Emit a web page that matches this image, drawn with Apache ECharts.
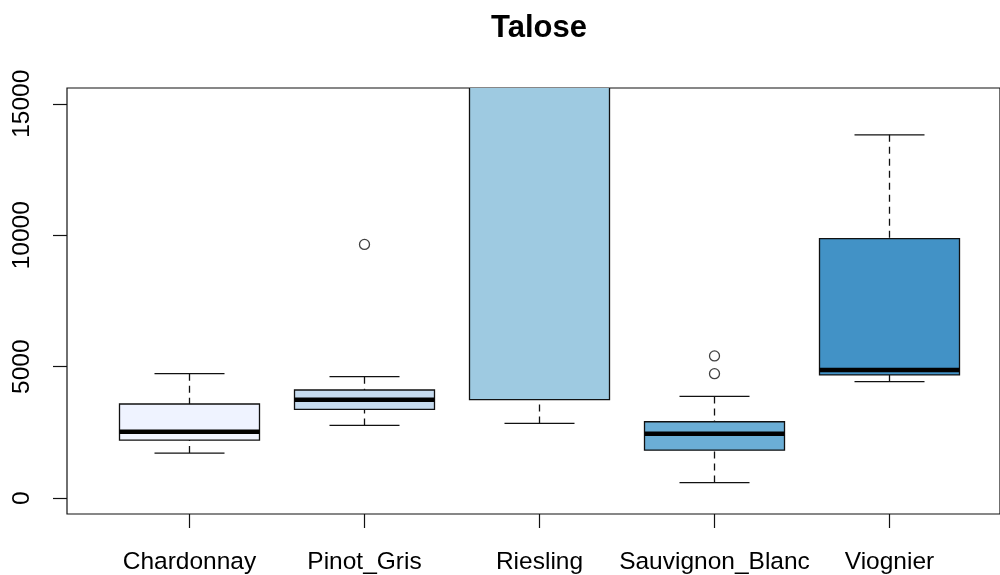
<!DOCTYPE html>
<html>
<head>
<meta charset="utf-8">
<title>Talose</title>
<script src="https://cdn.jsdelivr.net/npm/echarts@6/dist/echarts.min.js"></script>
<style>
  html, body { margin: 0; padding: 0; background: #fff; }
  #chart { width: 1000px; height: 575px; }
</style>
</head>
<body>
<div id="chart"></div>
<script>
// Varieties along the x axis
const categories = ['Chardonnay', 'Pinot_Gris', 'Riesling', 'Sauvignon_Blanc', 'Viognier'];

// Five-number summaries per variety
const lowWhisker  = [1715, 2767, 2843,  595,  4432];
const lowerQuart  = [2210, 3377, 3746, 1829,  4687];
const medians     = [2527, 3746, 17000, 2450, 4878];
const upperQuart  = [3584, 4116, 21000, 2908, 9870];
const highWhisker = [4737, 4623, 28000, 3872, 13819];

// Outlying observations: [variety position, value]
const outliers = [[2, 9653], [4, 5412], [4, 4737]];

// Axis ticks
const yTicks = [0, 5000, 10000, 15000];
const xTicks = [1, 2, 3, 4, 5];

const fills = ['#EFF3FF', '#C6DBEF', '#9ECAE1', '#6BAED6', '#4292C6'];
const FONT = '"Liberation Sans", Arial, sans-serif';

const boxData = categories.map((c, i) => [
  i + 1, lowWhisker[i], lowerQuart[i], medians[i], upperQuart[i], highWhisker[i]
]);

function renderBox(params, api) {
  const x = api.value(0);
  const lo = api.value(1), q1 = api.value(2), md = api.value(3), q3 = api.value(4), hi = api.value(5);
  const half = 0.4, staple = 0.2;
  const tl = api.coord([x - half, q3]);
  const br = api.coord([x + half, q1]);
  const seg = (a, b, style) => ({
    type: 'line',
    shape: { x1: a[0], y1: a[1], x2: b[0], y2: b[1] },
    style: Object.assign({ stroke: '#111', lineWidth: 1.3 }, style || {})
  });
  return {
    type: 'group',
    children: [
      seg(api.coord([x, hi]), api.coord([x, q3]), { lineDash: [7, 5] }),
      seg(api.coord([x, lo]), api.coord([x, q1]), { lineDash: [7, 5] }),
      seg(api.coord([x - staple, hi]), api.coord([x + staple, hi])),
      seg(api.coord([x - staple, lo]), api.coord([x + staple, lo])),
      {
        type: 'rect',
        shape: { x: tl[0], y: tl[1], width: br[0] - tl[0], height: br[1] - tl[1] },
        style: { fill: fills[params.dataIndex], stroke: '#111', lineWidth: 1.3 }
      },
      seg(api.coord([x - half, md]), api.coord([x + half, md]), { stroke: '#000', lineWidth: 4.5 })
    ]
  };
}

const chart = echarts.init(document.getElementById('chart'), null, { renderer: 'canvas' });
chart.setOption({
  animation: false,
  backgroundColor: '#fff',
  textStyle: { fontFamily: FONT },
  title: {
    text: 'Talose',
    left: 534,
    top: 8,
    textAlign: 'center',
    textStyle: { fontFamily: FONT, fontSize: 31, fontWeight: 'bold', color: '#000' }
  },
  grid: {
    left: 67, right: 0, top: 88, bottom: 61,
    show: true, borderColor: '#111', borderWidth: 1.2, backgroundColor: 'transparent'
  },
  xAxis: {
    type: 'value',
    // plot region runs a little past the right edge of the canvas
    min: 0.3, max: 5.6314,
    axisLine: { show: false, onZero: false },
    splitLine: { show: false },
    axisTick: { show: true, customValues: xTicks, length: 14, lineStyle: { color: '#111', width: 1.2 } },
    axisLabel: {
      customValues: xTicks,
      formatter: v => categories[Math.round(v) - 1] || '',
      color: '#000', fontFamily: FONT, fontSize: 24.5, margin: 36
    }
  },
  yAxis: {
    type: 'value',
    min: -600, max: 15600,
    axisLine: { show: false, onZero: false },
    splitLine: { show: false },
    axisTick: { show: true, customValues: yTicks, length: 14, lineStyle: { color: '#111', width: 1.2 } },
    axisLabel: {
      customValues: yTicks,
      rotate: 90,
      formatter: v => String(v),
      color: '#000', fontFamily: FONT, fontSize: 24.5, margin: 32
    }
  },
  series: [
    {
      type: 'custom',
      clip: true,
      renderItem: renderBox,
      encode: { x: 0, y: [1, 2, 3, 4, 5] },
      data: boxData,
      z: 2
    },
    {
      type: 'scatter',
      clip: true,
      symbol: 'circle',
      symbolSize: 10,
      itemStyle: { color: 'rgba(0,0,0,0)', borderColor: '#111', borderWidth: 1.3 },
      data: outliers,
      z: 3
    }
  ]
});
</script>
</body>
</html>
